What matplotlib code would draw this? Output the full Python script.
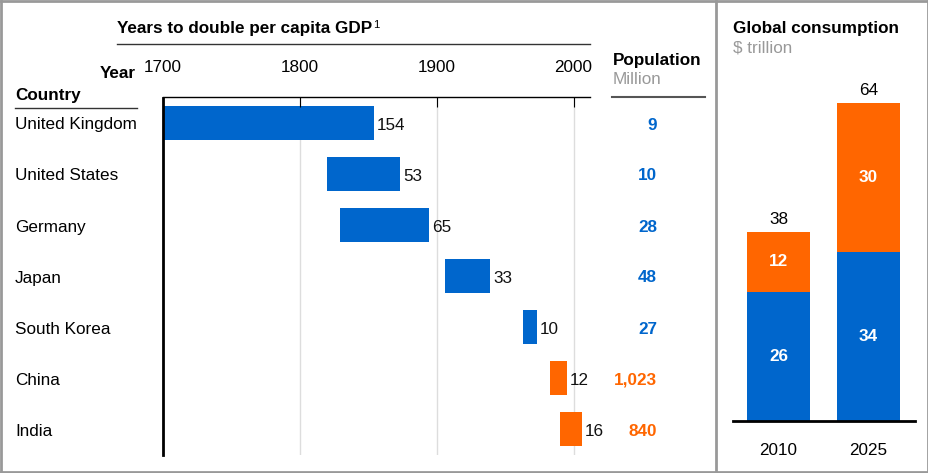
import matplotlib.pyplot as plt
from matplotlib.lines import Line2D

plt.rcParams['font.family'] = ['Liberation Sans', 'DejaVu Sans']

W, H = 929, 473
BLUE = '#0066cc'
ORANGE = '#ff6600'
GRAY = '#999999'
FS = 12.3

countries = ['United Kingdom', 'United States', 'Germany', 'Japan',
             'South Korea', 'China', 'India']
start_years = [1700, 1820, 1829, 1906, 1963, 1983, 1990]
durations = [154, 53, 65, 33, 10, 12, 16]
population = ['9', '10', '28', '48', '27', '1,023', '840']
emerging = [False, False, False, False, False, True, True]
year_ticks = [1700, 1800, 1900, 2000]

cons_years = ['2010', '2025']
cons_blue = [26, 34]
cons_orange = [12, 30]


def fx(x):
    return x / W


def fy(y):
    return 1 - y / H


def ftext(x, y, s, **kw):
    return fig.text(fx(x), fy(y), s, **kw)


def fline(x0, x1, y0, y1, color='black', lw=1.0):
    fig.add_artist(Line2D([fx(x0), fx(x1)], [fy(y0), fy(y1)],
                          transform=fig.transFigure, color=color, lw=lw))


fig = plt.figure(figsize=(W / 100, H / 100), dpi=100)

# ---- left panel: years to double GDP
ax = fig.add_axes([fx(163), fy(454.5), (590 - 163) / W, (454.5 - 97.5) / H])
cols = [ORANGE if e else BLUE for e in emerging]
rows = list(range(len(countries)))
ax.barh(rows, durations, left=start_years, height=0.67, color=cols, lw=0)
ax.set_xlim(1700, 2012)
ax.set_ylim(6.5, -0.5)
for xv in year_ticks[1:]:
    ax.axvline(xv, color='#dddddd', lw=1, zorder=0)
for i in rows:
    ax.text(start_years[i] + durations[i] + 2.5, i + 0.04, str(durations[i]),
            va='center', ha='left', fontsize=FS, color='#111111')
for s in ['right', 'bottom']:
    ax.spines[s].set_visible(False)
ax.spines['left'].set_linewidth(2)
ax.spines['top'].set_linewidth(1)
ax.xaxis.tick_top()
ax.set_xticks(year_ticks)
ax.tick_params(axis='x', direction='in', length=7, pad=16, labelsize=FS,
               color='black')
ax.set_yticks([])

for i, c in enumerate(countries):
    ftext(15, 125 + 51 * i, c, ha='left', va='center', fontsize=FS)
    ftext(657, 125 + 51 * i, population[i], ha='right', va='center',
          fontsize=FS, fontweight='bold', color=cols[i])

title = ftext(117, 28, 'Years to double per capita GDP', ha='left',
              va='center', fontsize=FS, fontweight='bold')
ax.annotate('1', xy=(1, 1), xycoords=title, xytext=(0.5, 0),
            textcoords='offset points', ha='left', va='top', fontsize=8)
fline(117, 590, 44, 44, color='#333333', lw=1)
ftext(136, 73, 'Year', ha='right', va='center', fontsize=FS,
      fontweight='bold')
ftext(15, 95, 'Country', ha='left', va='center', fontsize=FS,
      fontweight='bold')
fline(15, 137, 108, 108, color='#333333', lw=1)
ftext(613, 61, 'Population', ha='left', va='center', fontsize=FS,
      fontweight='bold')
ftext(613, 80, 'Million', ha='left', va='center', fontsize=FS, color=GRAY)
fline(612, 705, 97, 97, color='#555555', lw=1.5)

# ---- right panel: global consumption
ax2 = fig.add_axes([fx(733), fy(421), (915 - 733) / W, (421 - 83) / H])
xs = list(range(len(cons_years)))
ax2.bar(xs, cons_blue, width=0.7, color=BLUE, lw=0)
ax2.bar(xs, cons_orange, width=0.7, bottom=cons_blue, color=ORANGE, lw=0)
for i in xs:
    ax2.text(i, cons_blue[i] / 2, str(cons_blue[i]), ha='center',
             va='center', color='white', fontsize=FS, fontweight='bold')
    ax2.text(i, cons_blue[i] + cons_orange[i] / 2, str(cons_orange[i]),
             ha='center', va='center', color='white', fontsize=FS,
             fontweight='bold')
    ax2.text(i, cons_blue[i] + cons_orange[i] + 1,
             str(cons_blue[i] + cons_orange[i]),
             ha='center', va='bottom', fontsize=FS)
ax2.set_xlim(-0.506, 1.517)
ax2.set_ylim(0, 68)
for s in ['left', 'right', 'top']:
    ax2.spines[s].set_visible(False)
ax2.spines['bottom'].set_linewidth(2)
ax2.set_yticks([])
ax2.set_xticks(xs)
ax2.set_xticklabels(cons_years)
ax2.tick_params(axis='x', length=0, pad=16, labelsize=FS)

ftext(733, 28, 'Global consumption', ha='left', va='center', fontsize=FS,
      fontweight='bold')
ftext(733, 48, '$ trillion', ha='left', va='center', fontsize=FS,
      color=GRAY)

# ---- frame
fline(1, 928, 1, 1, color=GRAY, lw=2)
fline(1, 928, 472, 472, color=GRAY, lw=2)
fline(1, 1, 1, 472, color=GRAY, lw=2)
fline(928, 928, 1, 472, color=GRAY, lw=2)
fline(716, 716, 1, 472, color=GRAY, lw=2)

fig.savefig('out.png', dpi=100)
